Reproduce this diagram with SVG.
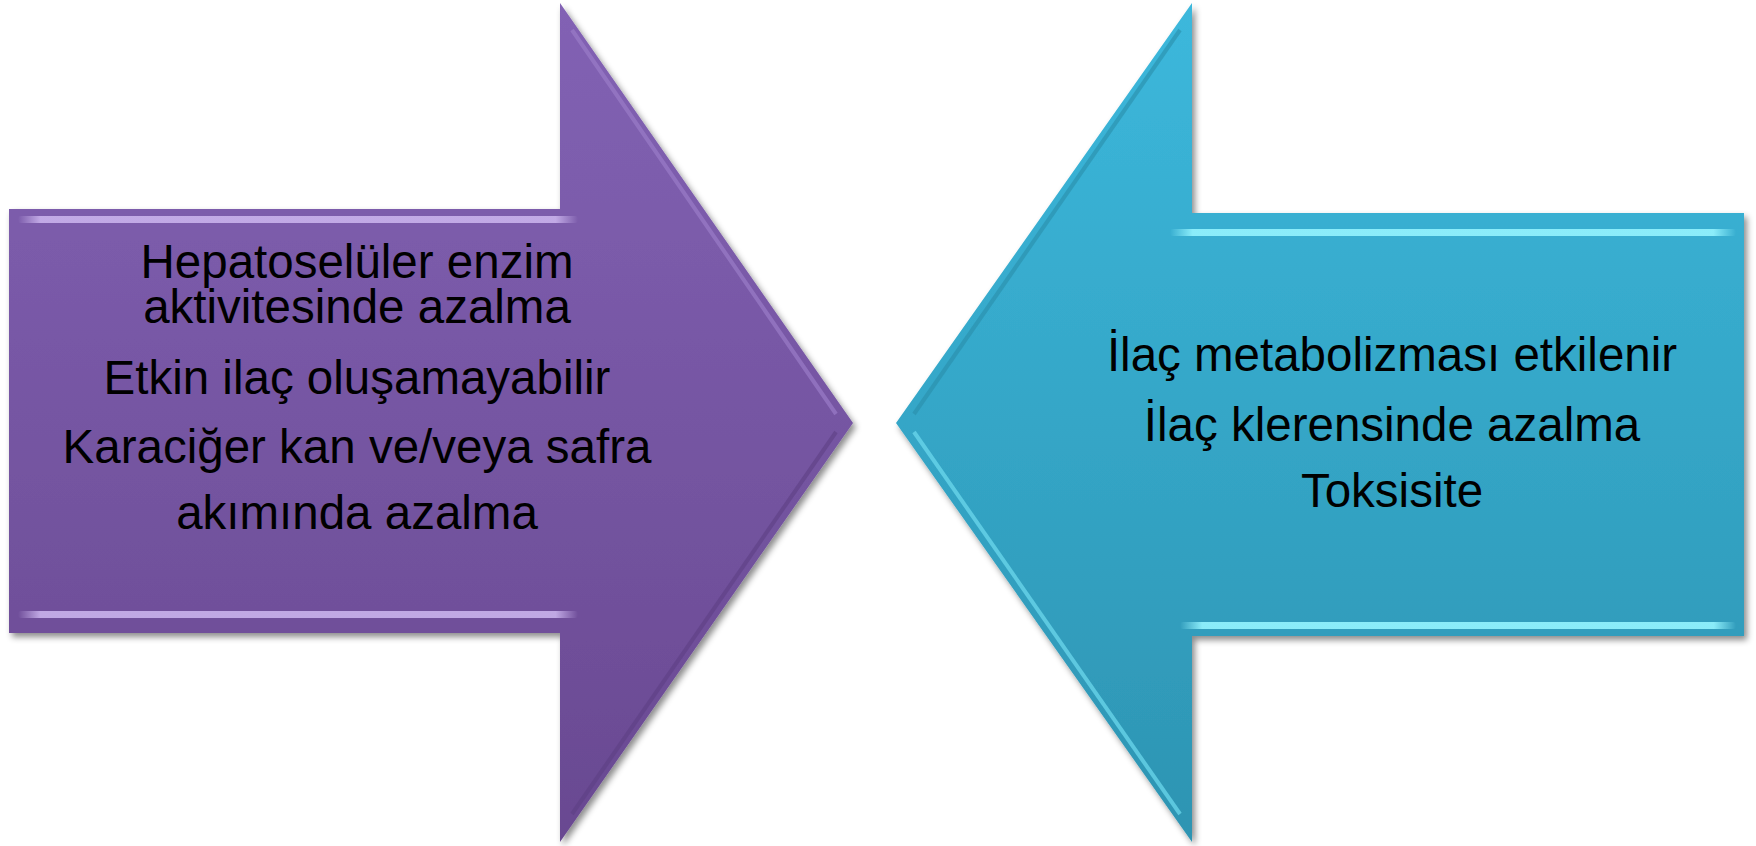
<svg xmlns="http://www.w3.org/2000/svg" width="1756" height="846" viewBox="0 0 1756 846">
  <style>
    .lbl { font-family: "Liberation Sans", Arial, sans-serif; font-size: 47.5px; fill: #000; text-anchor: middle; }
  </style>
  <defs>
    <linearGradient id="gPurple" x1="0" y1="0" x2="0" y2="1">
      <stop offset="0" stop-color="#8262b4"/>
      <stop offset="1" stop-color="#694991"/>
    </linearGradient>
    <linearGradient id="gCyan" x1="0" y1="0" x2="0" y2="1">
      <stop offset="0" stop-color="#3cb8dc"/>
      <stop offset="1" stop-color="#2d94b2"/>
    </linearGradient>
    <linearGradient id="hlPurple" x1="0" y1="0" x2="1" y2="0">
      <stop offset="0" stop-color="#c9b2ec" stop-opacity="0"/>
      <stop offset="0.04" stop-color="#c9b2ec" stop-opacity="0.9"/>
      <stop offset="0.96" stop-color="#c9b2ec" stop-opacity="0.9"/>
      <stop offset="1" stop-color="#c9b2ec" stop-opacity="0"/>
    </linearGradient>
    <linearGradient id="hlCyan" x1="0" y1="0" x2="1" y2="0">
      <stop offset="0" stop-color="#8ff0fc" stop-opacity="0"/>
      <stop offset="0.04" stop-color="#8ff0fc" stop-opacity="0.95"/>
      <stop offset="0.96" stop-color="#8ff0fc" stop-opacity="0.95"/>
      <stop offset="1" stop-color="#8ff0fc" stop-opacity="0"/>
    </linearGradient>
    <filter id="shadow" x="-5%" y="-5%" width="115%" height="115%">
      <feDropShadow dx="3" dy="4" stdDeviation="3" flood-color="#000" flood-opacity="0.45"/>
    </filter>
  </defs>

  <g id="arrow-left">
    <polygon points="9,209 560,209 560,3 853,423 560,842 560,633 9,633" fill="url(#gPurple)" filter="url(#shadow)"/>
    <polyline points="572,30 836,414" fill="none" stroke="#9a7cc8" stroke-width="4" stroke-opacity="0.7"/>
    <polyline points="836,432 572,814" fill="none" stroke="#5e4084" stroke-width="4" stroke-opacity="0.6"/>
    <rect x="18" y="216" width="560" height="7" rx="3" fill="url(#hlPurple)"/>
    <rect x="18" y="611" width="560" height="7" rx="3" fill="url(#hlPurple)"/>
    <text class="lbl" x="357" y="278">Hepatoselüler enzim</text>
    <text class="lbl" x="357" y="323">aktivitesinde azalma</text>
    <text class="lbl" x="357" y="394">Etkin ilaç oluşamayabilir</text>
    <text class="lbl" x="357" y="463">Karaciğer kan ve/veya safra</text>
    <text class="lbl" x="357" y="529">akımında azalma</text>
  </g>

  <g id="arrow-right">
    <polygon points="1744,213 1192,213 1192,3 896,423 1192,842 1192,636 1744,636" fill="url(#gCyan)" filter="url(#shadow)"/>
    <polyline points="1180,30 914,414" fill="none" stroke="#2a8eaa" stroke-width="4" stroke-opacity="0.6"/>
    <polyline points="914,432 1180,814" fill="none" stroke="#6fdcef" stroke-width="4" stroke-opacity="0.7"/>
    <rect x="1170" y="229" width="566" height="7" rx="3" fill="url(#hlCyan)"/>
    <rect x="1180" y="622" width="556" height="7" rx="3" fill="url(#hlCyan)"/>
    <text class="lbl" x="1392" y="371">İlaç metabolizması etkilenir</text>
    <text class="lbl" x="1392" y="441">İlaç klerensinde azalma</text>
    <text class="lbl" x="1392" y="507">Toksisite</text>
  </g>

  <g id="connectors"/>
</svg>
